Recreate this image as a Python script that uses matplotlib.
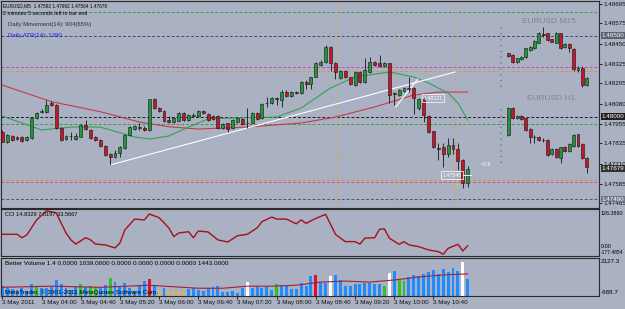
import numpy as np
import matplotlib.pyplot as plt

# EURUSD M5 candles (bar index 0 = 03:20)
main_open = [1.47906, 1.47845, 1.47880, 1.47872, 1.47876, 1.47855, 1.47866, 1.47989, 1.48030, 1.48030,
             1.48085, 1.48071, 1.47931, 1.47860, 1.47880, 1.47860, 1.47876, 1.47948, 1.47917, 1.47872,
             1.47855, 1.47818, 1.47769, 1.47748, 1.47773, 1.47804, 1.47886, 1.47921, 1.47927, 1.47931,
             1.47917, 1.48106, 1.48054, 1.48034, 1.47979, 1.47968, 1.47974, 1.48020, 1.47979, 1.48003,
             1.48003, 1.48034, 1.48016, 1.48003, 1.48003, 1.47927, 1.47958, 1.47927, 1.47968, 1.47983,
             1.47962, 1.47962, 1.48024, 1.47989, 1.48085, 1.48082, 1.48113, 1.48102, 1.48153, 1.48127,
             1.48153, 1.48143, 1.48215, 1.48201, 1.48246, 1.48318, 1.48338, 1.48431, 1.48332, 1.48236,
             1.48283, 1.48242, 1.48194, 1.48277, 1.48215, 1.48277, 1.48338, 1.48328, 1.48312, 1.48328,
             1.48143, 1.48133, 1.48159, 1.48174, 1.48174, 1.48051, 1.48106, 1.48003, 1.47908, 1.47804,
             1.47810, 1.47769, 1.47824, 1.47798, 1.47732, 1.47592]
main_high = [1.47917, 1.47892, 1.47886, 1.47877, 1.47880, 1.47877, 1.47995, 1.48030, 1.48045, 1.48102,
             1.48096, 1.48077, 1.47935, 1.47886, 1.47906, 1.47896, 1.47954, 1.47979, 1.47923, 1.47877,
             1.47861, 1.47824, 1.47775, 1.47793, 1.47818, 1.47892, 1.47943, 1.47950, 1.47962, 1.47942,
             1.48110, 1.48116, 1.48059, 1.48040, 1.48003, 1.47995, 1.48026, 1.48026, 1.48016, 1.48020,
             1.48040, 1.48040, 1.48022, 1.48009, 1.48009, 1.47960, 1.47962, 1.47985, 1.47997, 1.47989,
             1.48053, 1.48028, 1.48028, 1.48084, 1.48122, 1.48119, 1.48122, 1.48164, 1.48164, 1.48159,
             1.48158, 1.48221, 1.48225, 1.48246, 1.48337, 1.48349, 1.48440, 1.48435, 1.48338, 1.48287,
             1.48287, 1.48246, 1.48281, 1.48283, 1.48359, 1.48369, 1.48345, 1.48380, 1.48337, 1.48332,
             1.48153, 1.48170, 1.48180, 1.48246, 1.48184, 1.48113, 1.48113, 1.48009, 1.47913, 1.47835,
             1.47835, 1.47866, 1.47866, 1.47835, 1.47738, 1.47692]
main_low = [1.47840, 1.47839, 1.47849, 1.47855, 1.47843, 1.47849, 1.47863, 1.47983, 1.48020, 1.48020,
            1.48065, 1.47923, 1.47849, 1.47855, 1.47855, 1.47855, 1.47872, 1.47917, 1.47861, 1.47849,
            1.47812, 1.47756, 1.47701, 1.47744, 1.47752, 1.47800, 1.47880, 1.47917, 1.47917, 1.47911,
            1.47911, 1.48045, 1.48028, 1.47968, 1.47958, 1.47962, 1.47971, 1.47972, 1.47972, 1.47995,
            1.47997, 1.48014, 1.47972, 1.47979, 1.47923, 1.47923, 1.47906, 1.47923, 1.47962, 1.47948,
            1.47927, 1.47958, 1.47979, 1.47985, 1.48061, 1.48077, 1.48071, 1.48061, 1.48121, 1.48121,
            1.48139, 1.48139, 1.48168, 1.48168, 1.48242, 1.48312, 1.48332, 1.48283, 1.48230, 1.48232,
            1.48236, 1.48194, 1.48188, 1.48209, 1.48205, 1.48267, 1.48312, 1.48308, 1.48306, 1.48082,
            1.48071, 1.48127, 1.48153, 1.48153, 1.48016, 1.48040, 1.47968, 1.47898, 1.47804, 1.47732,
            1.47690, 1.47752, 1.47769, 1.47670, 1.47559, 1.47564]
main_close = [1.47845, 1.47886, 1.47855, 1.47860, 1.47849, 1.47872, 1.47989, 1.48024, 1.48036, 1.48071,
              1.48073, 1.47927, 1.47855, 1.47880, 1.47877, 1.47880, 1.47948, 1.47921, 1.47866, 1.47855,
              1.47818, 1.47763, 1.47748, 1.47777, 1.47810, 1.47884, 1.47937, 1.47943, 1.47937, 1.47917,
              1.48106, 1.48051, 1.48034, 1.47974, 1.47968, 1.47989, 1.48020, 1.47979, 1.48009, 1.48009,
              1.48034, 1.48020, 1.47979, 1.47983, 1.47927, 1.47954, 1.47921, 1.47979, 1.47989, 1.47954,
              1.47960, 1.48020, 1.47983, 1.48077, 1.48084, 1.48113, 1.48110, 1.48153, 1.48127, 1.48153,
              1.48143, 1.48215, 1.48201, 1.48242, 1.48328, 1.48338, 1.48431, 1.48332, 1.48277, 1.48283,
              1.48242, 1.48201, 1.48277, 1.48215, 1.48287, 1.48338, 1.48318, 1.48312, 1.48332, 1.48133,
              1.48141, 1.48164, 1.48174, 1.48172, 1.48113, 1.48106, 1.48009, 1.47906, 1.47815, 1.47801,
              1.47769, 1.47824, 1.47798, 1.47728, 1.47590, 1.47679]

# moving averages (bar, price)
slow_ma_bar = [0, 10, 20, 28, 34, 40, 50, 61, 68, 76, 84, 89, 95]
slow_ma = [1.48194, 1.48092, 1.48030, 1.47966, 1.47937, 1.47923, 1.47935, 1.47960, 1.47997,
           1.48059, 1.48133, 1.48151, 1.48151]
fast_ma_bar = [0, 4, 8, 14, 20, 27, 30, 34, 38, 42, 47, 56, 61, 67, 72, 79, 84, 87, 91, 93, 95]
fast_ma = [1.48003, 1.47960, 1.47917, 1.47935, 1.47935, 1.47874, 1.47861, 1.47880, 1.47935, 1.47985,
           1.47991, 1.47997, 1.48053, 1.48176, 1.48244, 1.48275, 1.48244, 1.48207, 1.48145, 1.48084,
           1.47979]
trend_bar = [22, 92.4]
trend_price = [1.47701, 1.48275]
trend2_bar = [80.3, 84.8]
trend2_price = [1.48059, 1.48231]

# horizontal levels and vertical time markers
levels = [1.48645, 1.48500, 1.48306, 1.48284, 1.48000, 1.47955, 1.47608, 1.47598, 1.47490]
level_colors = ['#3c9a3c', '#3e4c6a', '#d040d0', '#e0962e', '#1c1c1c', '#3c9a3c',
                '#e08a3a', '#d0509a', '#4c5668']
vlines_bar = [68.3, 80.2, 92.4]

# mini overlays
m15_open = [1.48390, 1.48380, 1.48338, 1.48355, 1.48369, 1.48410, 1.48421, 1.48455, 1.48507, 1.48513,
            1.48476, 1.48455, 1.48513, 1.48427, 1.48448, 1.48417, 1.48287, 1.48301, 1.48195]
m15_high = [1.48395, 1.48386, 1.48364, 1.48373, 1.48426, 1.48438, 1.48475, 1.48523, 1.48554, 1.48518,
            1.48481, 1.48522, 1.48518, 1.48454, 1.48454, 1.48423, 1.48309, 1.48309, 1.48241]
m15_low = [1.48370, 1.48333, 1.48333, 1.48349, 1.48364, 1.48404, 1.48417, 1.48451, 1.48493, 1.48466,
           1.48457, 1.48451, 1.48414, 1.48423, 1.48398, 1.48284, 1.48275, 1.48184, 1.48188]
m15_close = [1.48375, 1.48338, 1.48359, 1.48369, 1.48421, 1.48431, 1.48468, 1.48513, 1.48505, 1.48472,
             1.48462, 1.48513, 1.48421, 1.48448, 1.48421, 1.48291, 1.48301, 1.48195, 1.48236]
h1_open = [1.47886, 1.48051, 1.47989, 1.48003, 1.47989, 1.47923, 1.47876, 1.47876, 1.47855, 1.47855,
           1.47769, 1.47798, 1.47742, 1.47814, 1.47789, 1.47820, 1.47890, 1.47831, 1.47746]
h1_high = [1.48056, 1.48056, 1.48009, 1.48009, 1.47994, 1.47929, 1.47886, 1.47880, 1.47866, 1.47861,
           1.47803, 1.47803, 1.47815, 1.47821, 1.47834, 1.47892, 1.47895, 1.47837, 1.47750]
h1_low = [1.47880, 1.47985, 1.47985, 1.47979, 1.47911, 1.47837, 1.47835, 1.47849, 1.47845, 1.47756,
          1.47763, 1.47744, 1.47711, 1.47784, 1.47784, 1.47815, 1.47815, 1.47738, 1.47650]
h1_close = [1.48051, 1.47989, 1.48003, 1.47983, 1.47917, 1.47872, 1.47874, 1.47855, 1.47853, 1.47763,
            1.47798, 1.47748, 1.47810, 1.47789, 1.47829, 1.47886, 1.47820, 1.47742, 1.47690]
# price range covered by the small rulers left of the overlays
m15_ruler = [1.48182, 1.48565]
h1_ruler = [1.47713, 1.48059]

# CCI(14)
cci_bar = [0, 3, 4, 5, 7, 9, 11, 13, 14, 15, 17, 18, 19, 21, 23, 24, 25, 27, 29, 30,
           32, 34, 35, 36, 38, 39, 40, 42, 44, 46, 48, 50, 52, 53, 55, 56, 58, 60, 61, 62,
           64, 66, 68, 70, 72, 73, 74, 76, 77, 78, 79, 81, 82, 83, 85, 87, 89, 90, 91, 93,
           94, 95]
cci = [-38, -38, -62, -43, 62, 126, 111, -29, -77, -106, -62, -77, -106, -112, -133, -99, -8, 68, 62, 103,
       78, 6, -54, -29, -20, -62, -15, -22, -77, -92, -48, -38, 6, 50, 82, 68, 68, 35, 62, 38,
       73, 101, -38, -89, -89, -106, -65, -62, -3, -1, -65, -108, -89, -112, -124, -147, -159, -177, -136, -108,
       -154, -118]

# Better Volume
volume = [650, 500, 435, 370, 500, 325, 760, 650, 500, 500, 540, 1040, 760, 500, 370, 540, 760, 585, 650, 585,
          500, 715, 1125, 865, 540, 800, 500, 325, 650, 975, 1085, 650, 370, 500, 325, 370, 325, 370, 435, 500,
          400, 325, 475, 540, 605, 260, 260, 325, 175, 475, 910, 475, 605, 475, 605, 390, 760, 695, 605, 435,
          435, 825, 605, 1235, 1300, 865, 825, 1235, 1300, 1040, 605, 650, 760, 760, 825, 825, 760, 760, 605, 1450,
          1560, 1085, 975, 1190, 1345, 1255, 1410, 1515, 1650, 1400, 1700, 1500, 1800, 1600, 2127, 1100]
vol_green = [7, 16, 18, 19, 22, 56, 78, 81, 82]
vol_red = [30, 64]
vol_white = [50, 67, 79, 94]
vol_low = [32, 34, 35, 36, 37]
vol_ma_bar = [0, 10, 20, 30, 40, 45, 50, 55, 60, 65, 70, 75, 80, 85, 90, 95]
vol_ma = [550, 620, 550, 680, 490, 490, 620, 620, 680, 880, 940, 880, 1010, 1200, 1330, 1400]

time_ticks = [0, 8, 16, 24, 32, 40, 48, 56, 64, 72, 80, 88]
time_labels = ['3 May 2011', '3 May 04:00', '3 May 04:40', '3 May 05:20', '3 May 06:00', '3 May 06:40',
               '3 May 07:20', '3 May 08:00', '3 May 08:40', '3 May 09:20', '3 May 10:00', '3 May 10:40']
price_ticks = [1.48695, 1.48575, 1.48450, 1.48325, 1.48205, 1.48080, 1.47955, 1.47835, 1.47710,
               1.47585, 1.47465]

BG = '#a9b1c3'
GREEN = '#23963a'
RED = '#c2182c'
W, H = 625, 309
plt.rcParams['font.family'] = 'Liberation Sans'
FS = 4.5

fig = plt.figure(figsize=(W / 100, H / 100), dpi=100)
fig.patch.set_facecolor(BG)


def px_axes(x0, y0, x1, y1):
    a = fig.add_axes([x0 / W, 1 - y1 / H, (x1 - x0) / W, (y1 - y0) / H])
    a.set_facecolor(BG)
    for s in a.spines.values():
        s.set_color('#2a2a2a')
        s.set_linewidth(0.8)
    a.set_xlim(-0.27, 121.8)
    return a


def candles(ax, xs, o, h, l, c, width):
    o, h, l, c = map(np.asarray, (o, h, l, c))
    up = c >= o
    ax.vlines(xs, l, h, color='#141414', lw=0.6, zorder=3)
    bottom = np.minimum(o, c)
    height = np.maximum(np.abs(c - o), 0.000015)
    ax.bar(xs, height, width, bottom=bottom, color=np.where(up, GREEN, RED),
           edgecolor='#141414', linewidth=0.4, zorder=4)


# ---------------- main price window ----------------
ax = px_axes(1, 1, 599, 208)
ax.set_ylim(1.474356, 1.48713)
for lv, col in zip(levels, level_colors):
    ax.axhline(lv, color=col, lw=0.7, ls=(0, (3, 2)), zorder=1)
for vb in vlines_bar:
    ax.axvline(vb, color='#e0a040', lw=0.7, ls=(0, (1, 2)), zorder=1)

ax.plot(slow_ma_bar, slow_ma, color='#c83a4a', lw=0.8, zorder=2)
ax.plot(fast_ma_bar, fast_ma, color='#36a052', lw=0.8, zorder=2)
ax.plot(trend_bar, trend_price, color='white', lw=0.8, zorder=2)
ax.plot(trend2_bar, trend2_price, color='white', lw=0.8, zorder=2)

bars = np.arange(len(main_open))
candles(ax, bars, main_open, main_high, main_low, main_close, 0.6)
m15_x = 103.3 + 0.888 * np.arange(len(m15_open))
h1_x = 103.3 + 0.888 * np.arange(len(h1_open))
candles(ax, m15_x, m15_open, m15_high, m15_low, m15_close, 0.6)
candles(ax, h1_x, h1_open, h1_high, h1_low, h1_close, 0.6)

# small price rulers of the overlay windows
ax.vlines(101.8, m15_ruler[0], m15_ruler[1], color='#7a8292', lw=1.4, ls=(0, (0.6, 2.4)), zorder=1)
ax.vlines(101.8, h1_ruler[0], h1_ruler[1], color='#7a8292', lw=1.4, ls=(0, (0.6, 2.4)), zorder=1)

ax.text(111.6, 1.48589, 'EURUSD M15', color='#7e8696', fontsize=6, ha='center', va='center')
ax.text(112.0, 1.48114, 'EURUSD H1', color='#7e8696', fontsize=6, ha='center', va='center')

ax.text(87.9, 1.48114, '1.48121', color='white', fontsize=3.8, ha='center', va='center', zorder=6,
        bbox=dict(facecolor='none', edgecolor='white', lw=0.5, pad=0.8))
ax.text(91.8, 1.47639, '1.47548', color='white', fontsize=3.8, ha='center', va='center', zorder=6,
        bbox=dict(facecolor='none', edgecolor='white', lw=0.5, pad=0.8))
ax.plot([94.0, 95.6], [1.47639, 1.47639], color='white', lw=0.6, zorder=6)
ax.text(98.7, 1.47701, '<2.6', color='white', fontsize=3.8, ha='center', va='center')
ax.text(68.9, 1.47750, '2', color='#e0a040', fontsize=4.5, ha='center', va='center')
ax.text(81.0, 1.47578, '2', color='#e0a040', fontsize=4.5, ha='center', va='center')
ax.text(92.8, 1.47571, '8', color='#e8d040', fontsize=4.5, ha='center', va='center')

ax.text(0.004, 0.975, 'EURUSD,M5  1.47592 1.47692 1.47564 1.47679', transform=ax.transAxes,
        fontsize=3.4, va='center', color='black')
ax.text(0.004, 0.94, '2 minutes 5 seconds left to bar end', transform=ax.transAxes,
        fontsize=3.9, va='center', color='black')
ax.text(0.012, 0.885, 'Daily Movement(14): 904(65%)', transform=ax.transAxes,
        fontsize=4.3, va='center', color='#303030')
ax.text(0.012, 0.835, 'Daily ATR(14): 1390', transform=ax.transAxes,
        fontsize=4.3, va='center', color='#2020e0')

ax.yaxis.tick_right()
ax.set_yticks(price_ticks)
ax.set_yticklabels([f'{p:.5f}' for p in price_ticks])
ax.tick_params(axis='y', labelsize=FS, length=2, width=0.6, pad=1, colors='#101010')
ax.set_xticks([])
for price, txt, fc, tc in [(1.48500, '1.48500', '#5c6270', 'white'),
                           (1.48000, '1.48000', '#202020', 'white'),
                           (1.47679, '1.47679', '#303030', 'white'),
                           (1.47490, '1.47490', '#70788a', 'white')]:
    ax.text(1.004, price, txt, transform=ax.get_yaxis_transform(), fontsize=FS, color=tc,
            va='center', ha='left', bbox=dict(facecolor=fc, edgecolor='none', pad=0.4))

# ---------------- CCI window ----------------
ax2 = px_axes(1, 209, 599, 256)
ax2.set_ylim(-189.3, 138.2)
ax2.plot(cci_bar, cci, color='#a80f1a', lw=1.0)
ax2.set_xticks([])
ax2.set_yticks([])
ax2.text(0.006, 0.88, 'CCI 14.8329 7.0197 33.5667', transform=ax2.transAxes, fontsize=4.1, va='center')
ax2.text(1.003, 0.9, '126.3880', transform=ax2.transAxes, fontsize=3.9, va='center')
ax2.text(1.003, 0.2, '0.00', transform=ax2.transAxes, fontsize=3.9, va='center')
ax2.text(1.003, 0.07, '-177.4854', transform=ax2.transAxes, fontsize=3.6, va='center')

# ---------------- Better Volume window ----------------
ax3 = px_axes(1, 258, 599, 296)
ax3.set_ylim(0, 2400)
vcol = ['#1e8cff'] * len(volume)
for i in vol_green:
    vcol[i] = '#2ec02e'
for i in vol_red:
    vcol[i] = '#e0102c'
for i in vol_white:
    vcol[i] = 'white'
for i in vol_low:
    vcol[i] = '#d8b070'
ax3.bar(np.arange(len(volume)), volume, 0.6, color=vcol, zorder=2)
ax3.plot(vol_ma_bar, vol_ma, color='#a0203c', lw=0.8, zorder=3)
ax3.set_yticks([])
ax3.text(0.006, 0.85, 'Better Volume 1.4 0.0000 1039.0000 0.0000 0.0000 0.0000 0.0000 1443.0000',
         transform=ax3.transAxes, fontsize=4.6, va='center')
ax3.text(0.006, 0.1, 'MetaTrader, \u00a9 2001-2011 MetaQuotes Software Corp.', transform=ax3.transAxes,
         fontsize=4.6, va='center', zorder=5)
ax3.text(1.003, 0.9, '2127.3', transform=ax3.transAxes, fontsize=FS, va='center')
ax3.text(1.003, 0.1, '-688.7', transform=ax3.transAxes, fontsize=FS, va='center')
ax3.set_xticks(time_ticks)
ax3.set_xticklabels(time_labels)
ax3.tick_params(axis='x', labelsize=4.5, length=2, width=0.6, pad=1.2, colors='#101010')
for t in ax3.get_xticklabels():
    t.set_horizontalalignment('left')

fig.savefig('out.png', dpi=100, facecolor=BG)
